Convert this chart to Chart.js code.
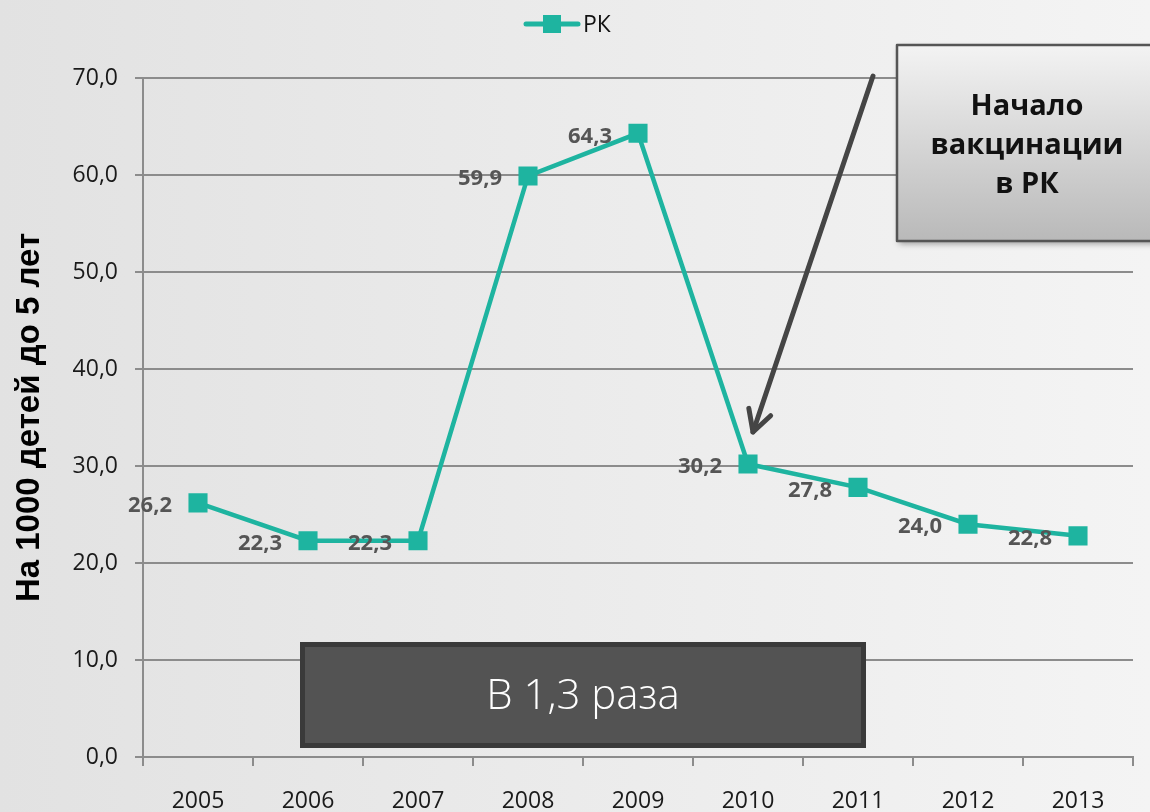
<!DOCTYPE html>
<html>
<head>
<meta charset="utf-8">
<script src="https://cdn.jsdelivr.net/npm/chart.js@4/dist/chart.umd.min.js"></script>
<style>
html,body{margin:0;padding:0;background:#ececec;}
#wrap{width:1150px;height:812px;position:relative;}
</style>
</head>
<body>
<div id="wrap"><canvas id="c" width="1150" height="812"></canvas></div>
<script>
const categories = ['2005','2006','2007','2008','2009','2010','2011','2012','2013'];
const seriesName = 'РК';
const values = [26.2, 22.3, 22.3, 59.9, 64.3, 30.2, 27.8, 24.0, 22.8];
const yTicks = [0, 10, 20, 30, 40, 50, 60, 70];
const yTitle = 'На 1000 детей до 5 лет';
const calloutLines = ['Начало', 'вакцинации', 'в РК'];
const boxText = 'В 1,3 раза';

const TEAL = '#1eb4a0';
const fmt = v => v.toFixed(1).replace('.', ',');

const bgPlugin = {
  id: 'bg',
  beforeDraw(chart) {
    const ctx = chart.ctx;
    const g = ctx.createLinearGradient(0, 0, chart.width, 0);
    g.addColorStop(0, '#e2e2e2');
    g.addColorStop(1, '#f4f4f4');
    ctx.save();
    ctx.fillStyle = g;
    ctx.fillRect(0, 0, chart.width, chart.height);
    ctx.restore();
  }
};

const legendPlugin = {
  id: 'customLegend',
  afterDraw(chart) {
    const ctx = chart.ctx;
    const cx = 552, cy = 24;
    ctx.save();
    ctx.strokeStyle = TEAL;
    ctx.lineWidth = 5;
    ctx.lineCap = 'round';
    ctx.beginPath();
    ctx.moveTo(cx - 26, cy);
    ctx.lineTo(cx + 26, cy);
    ctx.stroke();
    ctx.fillStyle = TEAL;
    ctx.fillRect(cx - 9, cy - 9, 18, 18);
    ctx.fillStyle = '#111';
    ctx.font = '23px "Open Sans"';
    ctx.textAlign = 'left';
    ctx.textBaseline = 'middle';
    ctx.fillText(seriesName, cx + 31, cy + 1);
    ctx.restore();
  }
};

const labelsPlugin = {
  id: 'dataLabels',
  afterDatasetsDraw(chart) {
    const ctx = chart.ctx;
    const meta = chart.getDatasetMeta(0);
    ctx.save();
    ctx.fillStyle = '#555555';
    ctx.font = 'bold 22px "Open Sans"';
    ctx.textAlign = 'right';
    ctx.textBaseline = 'middle';
    meta.data.forEach((pt, i) => {
      ctx.fillText(fmt(values[i]), pt.x - 26, pt.y + 3);
    });
    ctx.restore();
  }
};

const annotPlugin = {
  id: 'annot',
  afterDraw(chart) {
    const ctx = chart.ctx;
    ctx.save();
    // bottom dark box
    const bx = 300, by = 642, bw = 566, bh = 106;
    ctx.fillStyle = '#3a3a3a';
    ctx.fillRect(bx, by, bw, bh);
    ctx.fillStyle = '#535353';
    ctx.fillRect(bx + 5, by + 5, bw - 10, bh - 10);
    ctx.fillStyle = '#ffffff';
    ctx.font = '300 42px "Open Sans"';
    ctx.textAlign = 'center';
    ctx.textBaseline = 'middle';
    ctx.fillText(boxText, bx + bw / 2, by + bh / 2 + 2);

    // arrow
    const x0 = 873, y0 = 76, x1 = 753, y1 = 432;
    ctx.strokeStyle = '#454545';
    ctx.lineWidth = 5;
    ctx.lineCap = 'round';
    ctx.lineJoin = 'round';
    ctx.beginPath();
    ctx.moveTo(x0, y0);
    ctx.lineTo(x1, y1);
    ctx.stroke();
    const ang = Math.atan2(y1 - y0, x1 - x0);
    const L = 24, spread = 0.5;
    ctx.beginPath();
    ctx.moveTo(x1 - L * Math.cos(ang - spread), y1 - L * Math.sin(ang - spread));
    ctx.lineTo(x1, y1);
    ctx.lineTo(x1 - L * Math.cos(ang + spread), y1 - L * Math.sin(ang + spread));
    ctx.stroke();

    // callout box
    const cx = 897, cy = 45, cw = 260, ch = 196;
    ctx.shadowColor = 'rgba(0,0,0,0.35)';
    ctx.shadowBlur = 6;
    ctx.shadowOffsetX = 2;
    ctx.shadowOffsetY = 3;
    const g = ctx.createLinearGradient(0, cy, 0, cy + ch);
    g.addColorStop(0, '#f3f3f3');
    g.addColorStop(1, '#b9b9b9');
    ctx.fillStyle = g;
    ctx.fillRect(cx, cy, cw, ch);
    ctx.shadowColor = 'transparent';
    ctx.strokeStyle = '#555555';
    ctx.lineWidth = 2.5;
    ctx.strokeRect(cx, cy, cw, ch);
    ctx.fillStyle = '#111111';
    ctx.font = 'bold 29px "Open Sans"';
    ctx.textAlign = 'center';
    ctx.textBaseline = 'middle';
    calloutLines.forEach((t, i) => ctx.fillText(t, 1027, 107 + i * 39));
    ctx.restore();
  }
};

new Chart(document.getElementById('c'), {
  type: 'line',
  data: {
    labels: categories,
    datasets: [{
      label: seriesName,
      data: values,
      borderColor: TEAL,
      backgroundColor: TEAL,
      borderWidth: 4.5,
      pointStyle: 'rect',
      pointRadius: 13.5,
      pointHoverRadius: 13.5,
      pointBackgroundColor: TEAL,
      pointBorderColor: TEAL,
      pointBorderWidth: 0,
      tension: 0
    }]
  },
  options: {
    responsive: false,
    animation: false,
    events: [],
    layout: { padding: { top: 78, right: 17, bottom: 0, left: 0 } },
    plugins: { legend: { display: false }, tooltip: { enabled: false } },
    scales: {
      x: {
        type: 'category',
        offset: true,
        grid: { offset: true, drawOnChartArea: false, drawTicks: true, tickLength: 9, color: '#8c8c8c', lineWidth: 2 },
        border: { color: '#8c8c8c', width: 2 },
        ticks: { color: '#1a1a1a', font: { family: 'Open Sans', size: 23 }, padding: 22, maxRotation: 0 },
        afterFit(s) { s.height = 55; }
      },
      y: {
        min: 0, max: 70,
        afterBuildTicks(s) { s.ticks = yTicks.map(v => ({ value: v })); },
        grid: { color: '#8c8c8c', lineWidth: 2, tickLength: 8 },
        border: { color: '#8c8c8c', width: 2 },
        ticks: { color: '#1a1a1a', font: { family: 'Open Sans', size: 23 }, padding: 17, callback: v => fmt(v) },
        title: { display: true, text: yTitle, color: '#000', font: { family: "'Liberation Sans', Arial, sans-serif", size: 33, weight: 'bold' }, lineHeight: 1.0, padding: { top: 10, bottom: 0 } },
        afterFit(s) { s.width = 143; }
      }
    }
  },
  plugins: [bgPlugin, labelsPlugin, annotPlugin, legendPlugin]
});
</script>
</body>
</html>
